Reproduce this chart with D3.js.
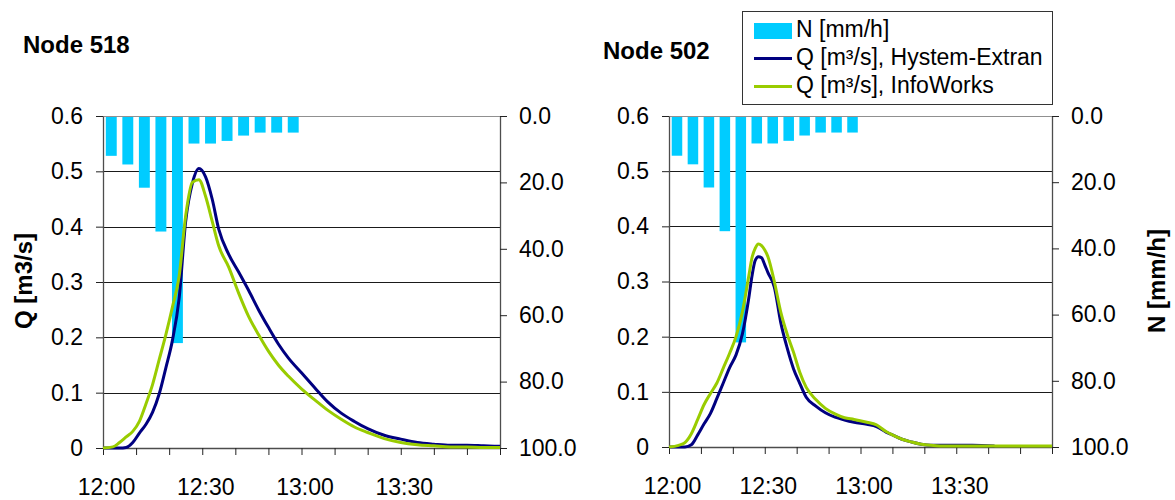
<!DOCTYPE html>
<html lang="de">
  <head>
    <meta charset="UTF-8">
    <title>Node 518 / Node 502</title>
    <script src="https://d3js.org/d3.v7.min.js"></script>
    <style>
      * {
        margin: 0;
        padding: 0;
      }
      body {
        background: #fff;
      }
      body > svg {
        display: block;
        font-family: Arial, "Liberation Sans", sans-serif;
      }
    </style>
  </head>
  <body>
    <script>
      // rainfall, 5 minute blocks starting at 12:00 (minutes after 12:00)
      var rainStart = [0, 5, 10, 15, 20, 25, 30, 35, 40, 45, 50, 55];
      var rain = [12, 14.6, 21.6, 34.8, 68.4, 8.3, 8.3, 7.5, 5.9, 5, 5, 5];

      // Node 518 discharge
      var t518 = [0, 3, 5, 7, 9, 11, 13, 15, 17, 19, 21, 23, 25, 27, 29, 31, 33, 35, 38, 41,
        44, 47, 50, 53, 56, 60, 64, 68, 72, 76, 80, 85, 90, 95, 100, 105, 110, 115, 120];
      var hystem518 = [0, 0, 0, 0.001, 0.01, 0.027, 0.043, 0.065, 0.098, 0.145, 0.195, 0.27, 0.41, 0.478, 0.505, 0.49, 0.45, 0.395, 0.35, 0.318,
        0.285, 0.25, 0.218, 0.188, 0.163, 0.136, 0.109, 0.083, 0.063, 0.048, 0.035, 0.023, 0.016, 0.01, 0.007, 0.005, 0.005, 0.004, 0.003];
      var infoworks518 = [0, 0.002, 0.01, 0.02, 0.03, 0.048, 0.08, 0.115, 0.16, 0.205, 0.255, 0.31, 0.42, 0.48, 0.485, 0.455, 0.41, 0.365, 0.327, 0.28,
        0.238, 0.205, 0.175, 0.15, 0.13, 0.107, 0.087, 0.068, 0.052, 0.038, 0.028, 0.017, 0.01, 0.006, 0.004, 0.002, 0.002, 0.001, 0.001];

      // Node 502 discharge
      var t502 = [0, 3, 5, 7, 9, 11, 13, 15, 17, 19, 21, 23, 25, 26, 27, 28, 29, 30, 31, 33, 35, 37, 39, 41, 43,
        46, 49, 52, 55, 58, 62, 65, 68, 70, 73, 76, 79, 82, 85, 90, 95, 102, 110, 120];
      var hystem502 = [0, 0, 0, 0.004, 0.022, 0.042, 0.061, 0.088, 0.116, 0.144, 0.167, 0.205, 0.27, 0.31, 0.338, 0.345, 0.343, 0.33, 0.316, 0.29, 0.226, 0.18, 0.142, 0.115, 0.09,
        0.074, 0.062, 0.054, 0.049, 0.045, 0.041, 0.037, 0.027, 0.022, 0.014, 0.009, 0.005, 0.003, 0.003, 0.003, 0.003, 0.002, null, null];
      var infoworks502 = [0, 0.003, 0.008, 0.024, 0.05, 0.077, 0.097, 0.116, 0.143, 0.17, 0.2, 0.245, 0.31, 0.343, 0.36, 0.368, 0.365, 0.357, 0.345, 0.3, 0.245, 0.205, 0.172, 0.135, 0.108,
        0.086, 0.07, 0.06, 0.053, 0.05, 0.045, 0.04, 0.028, 0.022, 0.014, 0.009, 0.005, 0.003, 0.002, 0.002, 0.002, 0.002, 0.002, 0.002];

      var qTicks = [0, 0.1, 0.2, 0.3, 0.4, 0.5, 0.6];
      var nTicks = [0, 20, 40, 60, 80, 100];
      var timeTicks = [0, 10, 20, 30, 40, 50, 60, 70, 80, 90, 100, 110, 120];
      var timeLabels = ["12:00", "12:30", "13:00", "13:30"];

      var legendItems = ["N [mm/h]", "Q [m³/s], Hystem-Extran", "Q [m³/s], InfoWorks"];

      var rainColor = "#00CCFF";
      var hystemColor = "#000080";
      var infoColor = "#99CC00";

      var width = 1175;
      var height = 500;

      var svg = d3.select("body").append("svg")
        .attr("width", width)
        .attr("height", height);

      function drawPanel(cfg) {
        var x = d3.scaleLinear().domain([0, 120]).range([cfg.left, cfg.right]);
        var y = d3.scaleLinear().domain([0, 0.6]).range([cfg.bottom, cfg.top]);
        var yN = d3.scaleLinear().domain([0, 100]).range([cfg.top, cfg.bottom]);

        var g = svg.append("g");

        // horizontal grid
        g.selectAll(".grid")
          .data(qTicks.filter(function (d) { return d > 0; }))
          .enter().append("line")
          .attr("class", "grid")
          .attr("x1", cfg.left)
          .attr("x2", cfg.right)
          .attr("y1", function (d) { return Math.round(y(d)) + 0.5; })
          .attr("y2", function (d) { return Math.round(y(d)) + 0.5; })
          .attr("stroke", function (d) { return d === 0.6 ? "#909090" : "#1a1a1a"; })
          .attr("stroke-width", 1);

        // rain bars hanging from the top
        var step = x(5) - x(0);
        g.selectAll(".bar")
          .data(rain)
          .enter().append("rect")
          .attr("class", "bar")
          .attr("x", function (d, i) { return x(rainStart[i] + 2.5) - step * 0.33; })
          .attr("width", step * 0.66)
          .attr("y", cfg.top + 1)
          .attr("height", function (d) { return yN(d) - cfg.top - 1; })
          .attr("fill", rainColor);

        // axes
        var leftAxis = d3.axisLeft(y)
          .tickValues(qTicks)
          .tickSize(7)
          .tickSizeOuter(0)
          .tickPadding(13)
          .tickFormat(function (d) { return d === 0 ? "0" : d3.format(".1f")(d); });

        var rightAxis = d3.axisRight(yN)
          .tickValues(nTicks)
          .tickSize(7)
          .tickSizeOuter(0)
          .tickPadding(12)
          .tickFormat(d3.format(".1f"));

        var bottomAxis = d3.axisBottom(x)
          .tickValues(timeTicks)
          .tickSize(7)
          .tickSizeOuter(0)
          .tickPadding(24)
          .tickFormat(function (d) {
            if (d % 30 !== 0 || d / 30 >= timeLabels.length) return "";
            return timeLabels[d / 30];
          });

        var axL = g.append("g").attr("transform", "translate(" + cfg.left + ",0)").call(leftAxis);
        var axR = g.append("g").attr("transform", "translate(" + cfg.right + ",0)").call(rightAxis);
        var axB = g.append("g").attr("transform", "translate(0," + cfg.bottom + ")").call(bottomAxis);

        [axL, axR, axB].forEach(function (ax) {
          ax.select(".domain").attr("stroke", "#4d4d4d").attr("stroke-width", 1.3);
          ax.selectAll(".tick line").attr("stroke", "#222");
          ax.selectAll(".tick text")
            .attr("fill", "#000")
            .style("font-size", "23px")
            .style("font-family", "Arial, 'Liberation Sans', sans-serif");
        });
        axB.selectAll(".tick text").attr("dx", 3);

        // discharge lines
        var series = [
          { values: cfg.hystem, color: hystemColor },
          { values: cfg.info, color: infoColor }
        ];
        series.forEach(function (s) {
          var line = d3.line()
            .defined(function (d, i) { return s.values[i] !== null; })
            .x(function (d) { return x(d); })
            .y(function (d, i) { return y(s.values[i]); })
            .curve(d3.curveMonotoneX);
          g.append("path")
            .datum(cfg.times)
            .attr("d", line)
            .attr("fill", "none")
            .attr("stroke", s.color)
            .attr("stroke-width", 3)
            .attr("stroke-linejoin", "round");
        });

        // title
        g.append("text")
          .attr("x", cfg.titleX)
          .attr("y", cfg.titleY)
          .attr("font-size", "24px")
          .attr("font-weight", "bold")
          .text(cfg.title);
      }

      drawPanel({
        title: "Node 518", titleX: 23, titleY: 53,
        left: 103, right: 500, top: 116, bottom: 448,
        times: t518, hystem: hystem518, info: infoworks518
      });

      drawPanel({
        title: "Node 502", titleX: 603, titleY: 59,
        left: 669, right: 1052, top: 116, bottom: 447,
        times: t502, hystem: hystem502, info: infoworks502
      });

      // axis titles
      svg.append("text")
        .attr("transform", "translate(32,281) rotate(-90)")
        .attr("text-anchor", "middle")
        .attr("font-size", "24px")
        .attr("font-weight", "bold")
        .text("Q [m3/s]");

      svg.append("text")
        .attr("transform", "translate(1165,281) rotate(-90)")
        .attr("text-anchor", "middle")
        .attr("font-size", "24px")
        .attr("font-weight", "bold")
        .text("N [mm/h]");

      // legend
      var legend = svg.append("g").attr("transform", "translate(742,11)");
      legend.append("rect")
        .attr("x", 0.5)
        .attr("y", 0.5)
        .attr("width", 310)
        .attr("height", 93)
        .attr("fill", "#fff")
        .attr("stroke", "#333");

      legend.append("rect")
        .attr("x", 12)
        .attr("y", 12)
        .attr("width", 38)
        .attr("height", 16)
        .attr("fill", rainColor);

      [hystemColor, infoColor].forEach(function (c, i) {
        legend.append("line")
          .attr("x1", 12)
          .attr("x2", 50)
          .attr("y1", 47.5 + i * 28)
          .attr("y2", 47.5 + i * 28)
          .attr("stroke", c)
          .attr("stroke-width", 3);
      });

      legend.selectAll(".legendText")
        .data(legendItems)
        .enter().append("text")
        .attr("class", "legendText")
        .attr("x", 54)
        .attr("y", function (d, i) { return 26 + i * 28; })
        .attr("font-size", "23px")
        .text(function (d) { return d; });
    </script>
  </body>
</html>
